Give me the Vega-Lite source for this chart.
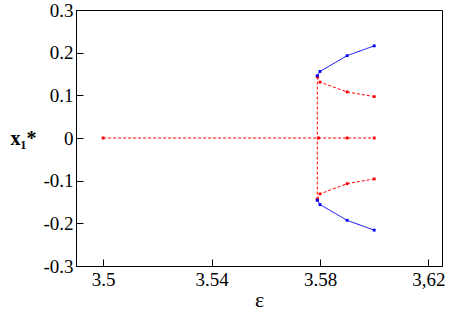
{
  "$schema": "https://vega.github.io/schema/vega-lite/v6.json",
  "width": 366,
  "height": 256,
  "autosize": "none",
  "padding": {"left": 76, "top": 10, "right": 10, "bottom": 44},
  "background": "white",
  "config": {
    "view": {"stroke": "black", "strokeWidth": 1},
    "axis": {"domainColor": "black", "tickColor": "black", "labelColor": "black", "titleColor": "black", "grid": false, "labelFont": "Liberation Serif", "labelFontSize": 19, "titleFont": "Liberation Serif"}
  },
  "data": {"values": [
    {"s": "r0", "c": "red", "o": 1, "x": 3.5, "y": 0},
    {"s": "r0", "c": "red", "o": 2, "x": 3.5795, "y": 0},
    {"s": "r0", "c": "red", "o": 3, "x": 3.59, "y": 0},
    {"s": "r0", "c": "red", "o": 4, "x": 3.6, "y": 0},
    {"s": "rv", "c": "red", "o": 1, "x": 3.579, "y": 0.144},
    {"s": "rv", "c": "red", "o": 2, "x": 3.579, "y": -0.144},
    {"s": "ru", "c": "red", "o": 1, "x": 3.579, "y": 0.144},
    {"s": "ru", "c": "red", "o": 2, "x": 3.58, "y": 0.131},
    {"s": "ru", "c": "red", "o": 3, "x": 3.59, "y": 0.108},
    {"s": "ru", "c": "red", "o": 4, "x": 3.6, "y": 0.097},
    {"s": "rl", "c": "red", "o": 1, "x": 3.579, "y": -0.144},
    {"s": "rl", "c": "red", "o": 2, "x": 3.58, "y": -0.131},
    {"s": "rl", "c": "red", "o": 3, "x": 3.59, "y": -0.107},
    {"s": "rl", "c": "red", "o": 4, "x": 3.6, "y": -0.096},
    {"s": "bu", "c": "blue", "o": 1, "x": 3.579, "y": 0.146},
    {"s": "bu", "c": "blue", "o": 2, "x": 3.58, "y": 0.156},
    {"s": "bu", "c": "blue", "o": 3, "x": 3.59, "y": 0.193},
    {"s": "bu", "c": "blue", "o": 4, "x": 3.6, "y": 0.216},
    {"s": "bl", "c": "blue", "o": 1, "x": 3.579, "y": -0.146},
    {"s": "bl", "c": "blue", "o": 2, "x": 3.58, "y": -0.156},
    {"s": "bl", "c": "blue", "o": 3, "x": 3.59, "y": -0.193},
    {"s": "bl", "c": "blue", "o": 4, "x": 3.6, "y": -0.216}
  ]},
  "encoding": {
    "x": {"field": "x", "type": "quantitative", "scale": {"domain": [3.49, 3.625], "nice": false, "zero": false},
      "axis": {"title": "ε", "titleFontSize": 22, "titleFontWeight": "normal", "titlePadding": 0,
        "values": [3.5, 3.54, 3.58, 3.62], "tickSize": -7, "labelPadding": 11,
        "labelExpr": "datum.value == 3.62 ? '3,62' : datum.value + ''"}},
    "y": {"field": "y", "type": "quantitative", "scale": {"domain": [-0.3, 0.3], "nice": false},
      "axis": {"title": "x₁*", "titleAngle": 0, "titleFontSize": 20, "titleFontWeight": "bold",
        "titleX": -66, "titleY": 128, "titleAlign": "left", "titleBaseline": "middle",
        "values": [-0.3, -0.2, -0.1, 0, 0.1, 0.2, 0.3], "tickSize": -7, "labelPadding": 10,
        "labelExpr": "datum.value + ''"}},
    "color": {"field": "c", "type": "nominal", "scale": {"domain": ["red", "blue"], "range": ["#ff0000", "#0000ff"]}, "legend": null}
  },
  "layer": [
    {
      "mark": {"type": "line", "strokeWidth": 1, "clip": true},
      "encoding": {
        "strokeDash": {"field": "c", "type": "nominal", "scale": {"domain": ["red", "blue"], "range": [[3, 2], [1, 0]]}, "legend": null},
        "detail": {"field": "s"},
        "order": {"field": "o"}
      }
    },
    {
      "mark": {"type": "point", "shape": "square", "filled": true, "size": 8, "opacity": 1},
      "encoding": {}
    }
  ]
}
